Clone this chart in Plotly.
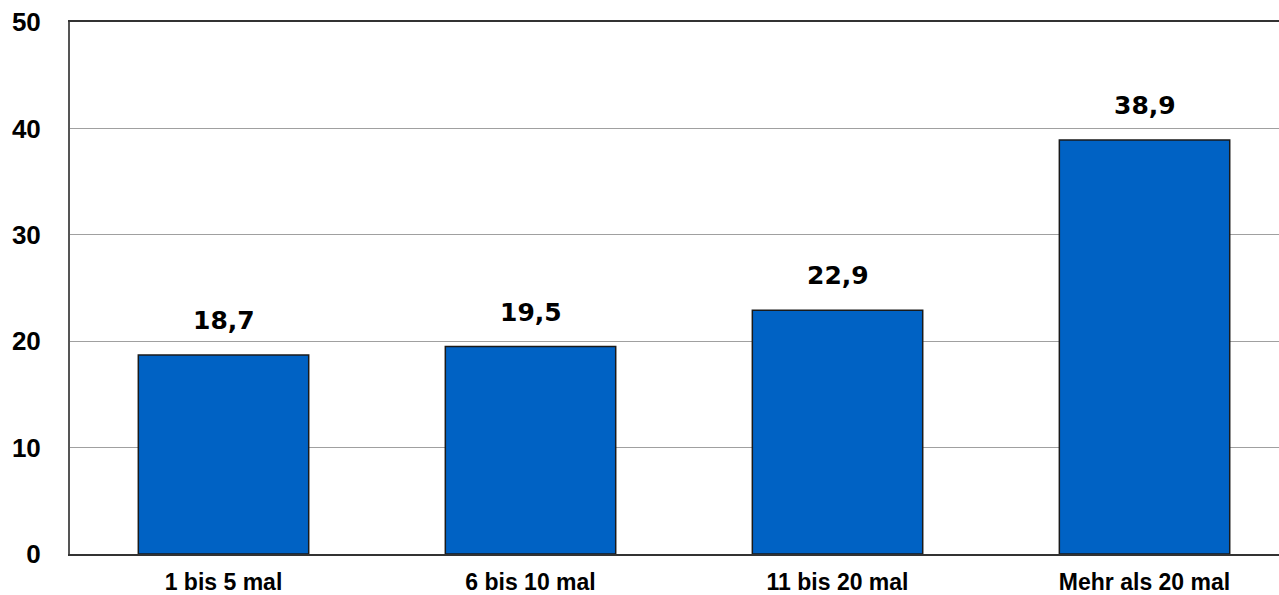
import plotly.graph_objects as go

categories = ["1 bis 5 mal", "6 bis 10 mal", "11 bis 20 mal", "Mehr als 20 mal"]
values = [18.7, 19.5, 22.9, 38.9]
y_ticks = [0, 10, 20, 30, 40, 50]

FONT = "Liberation Sans, Arial, sans-serif"
NUM_FONT = "DejaVu Sans, Liberation Sans, sans-serif"

fig = go.Figure()
fig.add_trace(go.Bar(
    x=categories,
    y=values,
    width=0.555,
    marker=dict(color="#0062C4", line=dict(color="#1a1a1a", width=1.5)),
    hoverinfo="skip",
))

# value labels above each bar, German decimal comma
for c, v in zip(categories, values):
    fig.add_annotation(
        x=c, y=v, xref="x", yref="y",
        text="<b>" + f"{v:.1f}".replace(".", ",") + "</b>",
        showarrow=False, yanchor="bottom", yshift=18,
        font=dict(family=NUM_FONT, size=25, color="#000000"),
    )

fig.update_layout(
    width=1279, height=595,
    margin=dict(l=70, r=0, t=22, b=39),
    paper_bgcolor="white", plot_bgcolor="white",
    showlegend=False,
    separators=",.",
    xaxis=dict(
        type="category",
        range=[-0.5, 3.438],
        showgrid=False,
        showline=True, linecolor="#333333", linewidth=2,
        mirror=True,
        ticks="", ticklabelstandoff=6,
        tickfont=dict(family=FONT, size=23, color="#000000", weight="bold"),
        fixedrange=True,
    ),
    yaxis=dict(
        range=[0, 50],
        tickvals=y_ticks,
        ticktext=[f"<b>{t}</b>" for t in y_ticks],
        showgrid=True, gridcolor="#a0a0a0", gridwidth=1,
        showline=True, linecolor="#555555", linewidth=2,
        zeroline=False,
        ticks="", ticklabelstandoff=22,
        tickfont=dict(family=FONT, size=26, color="#000000"),
        fixedrange=True,
    ),
)

fig.write_html("out.html")
